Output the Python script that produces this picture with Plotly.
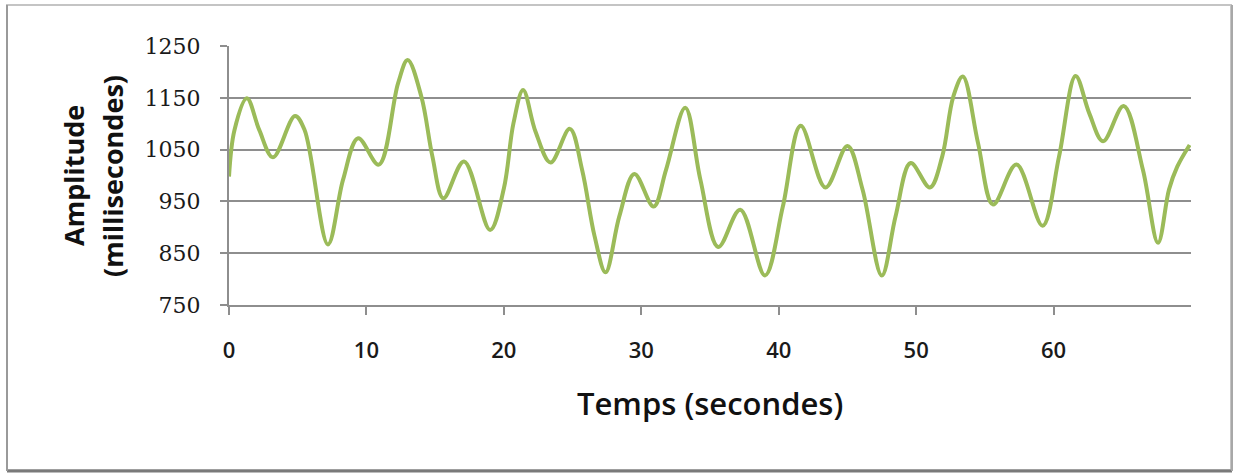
import plotly.graph_objects as go

# Data
time_s = [0, 0.4, 1.3, 2.2, 3.2, 4.8, 5.5, 7.2, 8.3, 9.4, 10.9, 12.3, 13.0, 14.0, 14.8,
          15.6, 17.1, 19.0, 20.0, 20.7, 21.4, 22.3, 23.4, 24.8, 25.7, 26.6, 27.4, 28.4,
          29.5, 30.9, 31.8, 33.2, 34.3, 35.6, 37.2, 39.0, 40.3, 41.6, 43.4, 45.0, 46.1,
          47.5, 48.5, 49.6, 51.0, 51.9, 52.7, 53.4, 54.5, 55.6, 57.3, 59.2, 60.4, 61.6,
          62.6, 63.6, 65.1, 66.5, 67.6, 68.4, 69.0, 69.9]
amplitude_ms = [998, 1088, 1149, 1088, 1035, 1115, 1088, 867, 992, 1072, 1021, 1178, 1223,
                1152, 1037, 956, 1027, 895, 975, 1101, 1165, 1085, 1025, 1090, 1010, 883,
                813, 921, 1003, 940, 1011, 1131, 992, 862, 934, 807, 940, 1096, 977, 1057,
                973, 807, 921, 1024, 977, 1037, 1152, 1191, 1063, 944, 1021, 903, 1037,
                1192, 1120, 1066, 1134, 1011, 870, 973, 1017, 1059]

y_ticks = [750, 850, 950, 1050, 1150, 1250]
x_ticks = [0, 10, 20, 30, 40, 50, 60]
x_title = "Temps (secondes)"
y_title_lines = ["Amplitude", "(millisecondes)"]

GRID = "#8e8e8e"
LINE = "#9bbb59"

fig = go.Figure()
fig.add_trace(go.Scatter(
    x=time_s, y=amplitude_ms, mode="lines",
    line=dict(color=LINE, width=4, shape="spline", smoothing=1.0),
    hoverinfo="x+y", showlegend=False,
))

W, H = 1236, 475
L, R, T, B = 229, 45, 46, 170
pw, ph = W - L - R, H - T - B

def px(xp):
    return (xp - L) / pw

def py(yp):
    return (H - B - yp) / ph

fig.update_layout(
    width=W, height=H,
    margin=dict(l=L, r=R, t=T, b=B, pad=0),
    paper_bgcolor="white", plot_bgcolor="white",
    xaxis=dict(
        range=[0, 70], tickvals=x_ticks, ticktext=[str(v) for v in x_ticks],
        showgrid=False, zeroline=False,
        showline=True, linecolor=GRID, linewidth=2,
        ticks="outside", ticklen=8, tickwidth=2, tickcolor=GRID,
        tickfont=dict(family="Open Sans", size=22, color="#1a1a1a", weight=600),
        ticklabelstandoff=17,
    ),
    yaxis=dict(
        range=[750, 1250], tickvals=y_ticks,
        showgrid=True, gridcolor=GRID, gridwidth=2, zeroline=False,
        showline=True, linecolor=GRID, linewidth=2,
        ticks="outside", ticklen=7, tickwidth=2, tickcolor=GRID,
        tickfont=dict(family="DejaVu Serif", size=22, color="#1a1a1a"),
        ticklabelstandoff=15,
    ),
    annotations=[
        dict(text=x_title, xref="paper", yref="paper", x=px(710), y=py(403),
             xanchor="center", yanchor="middle", showarrow=False,
             font=dict(family="Open Sans", size=31, color="#111111", weight=600)),
        dict(text=y_title_lines[0], xref="paper", yref="paper", x=px(73), y=py(176),
             xanchor="center", yanchor="middle", showarrow=False, textangle=-90,
             font=dict(family="Open Sans", size=27, color="#111111", weight=700)),
        dict(text=y_title_lines[1], xref="paper", yref="paper", x=px(112), y=py(176),
             xanchor="center", yanchor="middle", showarrow=False, textangle=-90,
             font=dict(family="Open Sans", size=27, color="#111111", weight=700)),
    ],
    shapes=[
        dict(type="rect", xref="paper", yref="paper",
             x0=px(7), x1=px(1231), y0=py(470), y1=py(5),
             line=dict(color="#c4c4c4", width=2), layer="below"),
        dict(type="line", xref="paper", yref="paper",
             x0=px(7), x1=px(1232), y0=py(471), y1=py(471),
             line=dict(color="#7a7a7a", width=3)),
        dict(type="line", xref="paper", yref="paper",
             x0=px(1232), x1=px(1232), y0=py(471), y1=py(5),
             line=dict(color="#a8a8a8", width=2)),
        dict(type="line", xref="paper", yref="paper",
             x0=px(7), x1=px(7), y0=py(471), y1=py(5),
             line=dict(color="#9a9a9a", width=2)),
    ],
)

fig.write_html(
    "out.html",
    config={"displayModeBar": False},
    post_script="document.body.style.margin='0';document.body.style.overflow='hidden';",
)
